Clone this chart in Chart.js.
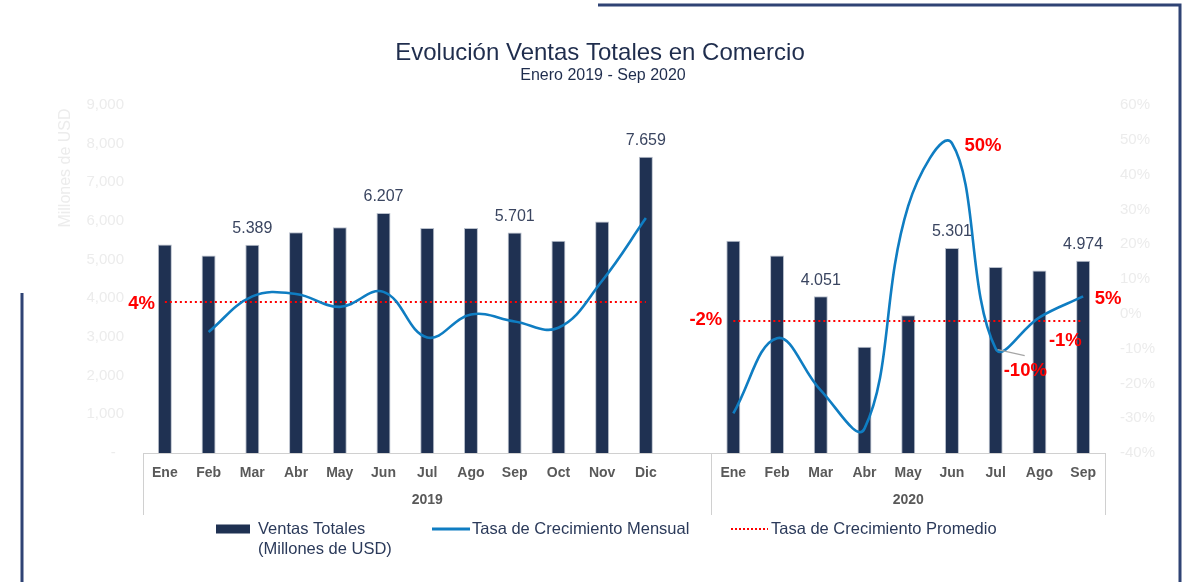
<!DOCTYPE html>
<html><head><meta charset="utf-8">
<script src="https://cdn.jsdelivr.net/npm/chart.js@4.4.1/dist/chart.umd.min.js"></script>
<style>html,body{margin:0;padding:0;background:#fff;}canvas{display:block;}</style>
</head><body>
<canvas id="c" width="1186" height="582"></canvas>
<script>
// ---- Data ----
const months2019 = ['Ene','Feb','Mar','Abr','May','Jun','Jul','Ago','Sep','Oct','Nov','Dic'];
const months2020 = ['Ene','Feb','Mar','Abr','May','Jun','Jul','Ago','Sep'];
const years = ['2019','2020'];
const ventas2019 = [5390, 5110, 5389, 5710, 5840, 6207, 5820, 5820, 5701, 5490, 5990, 7659];
const ventas2020 = [5490, 5110, 4051, 2750, 3565, 5301, 4810, 4720, 4974];
const crecimiento2019 = [null, -5.2, 5.0, 5.7, 2.0, 6.3, -6.8, -0.2, -2.2, -4.0, 9.5, 27.5];
const crecimiento2020 = [-28.6, -7.0, -22.0, -33.0, 31.0, 49.0, -10.0, -1.0, 5.0];
const promedio2019 = 3.4;
const promedio2020 = -2.1;
const promedioTexto = ['4%', '-2%'];
const barrasEtiquetadas2019 = ['Mar','Jun','Sep','Dic'];
const barrasEtiquetadas2020 = ['Mar','Jun','Sep'];
const etiquetasCrecimiento2020 = [['Jun','50%'],['Jul','-10%'],['Ago','-1%'],['Sep','5%']];
const leftTicksMax = 9000, leftTicksStep = 1000;
const rightTicksMin = -40, rightTicksMax = 60, rightTicksStep = 10;

// ---- Build ----
const labels = [...months2019, '', ...months2020];
const off2020 = months2019.length + 1;
const ventas = [...ventas2019, null, ...ventas2020];
const crecimiento = [...crecimiento2019, null, ...crecimiento2020];
const promLine2019 = [...months2019.map(() => promedio2019), null, ...months2020.map(() => null)];
const promLine2020 = [...months2019.map(() => null), null, ...months2020.map(() => promedio2020)];

const FONT = "'Liberation Sans', Arial, sans-serif";
Chart.defaults.font.family = FONT;

const NAVY = '#1f3152';
const BLUE = '#0f7dc2';
const RED = '#ff0000';
const FAINT = '#ececec';

const decor = {
  id: 'decor',
  beforeDraw(chart) {
    const ctx = chart.ctx;
    ctx.save();
    ctx.fillStyle = '#ffffff';
    ctx.fillRect(0, 0, chart.width, chart.height);
    ctx.strokeStyle = '#2f4374';
    ctx.lineWidth = 3;
    ctx.beginPath();
    ctx.moveTo(598, 5); ctx.lineTo(1180, 5); ctx.lineTo(1180, 582);
    ctx.stroke();
    ctx.beginPath();
    ctx.moveTo(22, 293); ctx.lineTo(22, 582);
    ctx.stroke();
    ctx.restore();
  },
  afterDraw(chart) {
    const ctx = chart.ctx;
    const x = chart.scales.x, y1 = chart.scales.y1;
    const ca = chart.chartArea;
    ctx.save();
    // Title
    ctx.textAlign = 'center';
    ctx.textBaseline = 'middle';
    ctx.fillStyle = '#1f2d4d';
    ctx.font = '24px ' + FONT;
    ctx.fillText('Evolución Ventas Totales en Comercio', 600, 53);
    ctx.font = '16px ' + FONT;
    ctx.fillText('Enero 2019 - Sep 2020', 603, 76);
    // Left axis title
    ctx.save();
    ctx.translate(66, 168);
    ctx.rotate(-Math.PI / 2);
    ctx.fillStyle = FAINT;
    ctx.font = '16px ' + FONT;
    ctx.fillText('Millones de USD', 0, 0);
    ctx.restore();
    // x axis: base line, group separators, years
    const cw = x.getPixelForValue(1) - x.getPixelForValue(0);
    const b0 = x.getPixelForValue(0) - cw / 2;
    const b1 = x.getPixelForValue(months2019.length) + cw / 2;
    const b2 = x.getPixelForValue(labels.length - 1) + cw / 2;
    ctx.strokeStyle = '#d0d0d0';
    ctx.lineWidth = 1;
    ctx.beginPath();
    ctx.moveTo(b0, ca.bottom + 0.5); ctx.lineTo(b2, ca.bottom + 0.5);
    [b0, b1, b2].forEach(b => { ctx.moveTo(Math.round(b) + 0.5, ca.bottom); ctx.lineTo(Math.round(b) + 0.5, ca.bottom + 62); });
    ctx.stroke();
    ctx.fillStyle = '#595959';
    ctx.font = 'bold 14px ' + FONT;
    ctx.fillText(years[0], (b0 + b1) / 2, ca.bottom + 47);
    ctx.fillText(years[1], (b1 + b2) / 2, ca.bottom + 47);
    // Bar value labels
    const barMeta = chart.getDatasetMeta(3);
    ctx.fillStyle = '#3a4560';
    ctx.font = '16px ' + FONT;
    const lblIdx = [...barrasEtiquetadas2019.map(m => months2019.indexOf(m)),
                    ...barrasEtiquetadas2020.map(m => off2020 + months2020.indexOf(m))];
    lblIdx.forEach(i => {
      const el = barMeta.data[i];
      ctx.fillText(ventas[i].toLocaleString('de-DE'), el.x, el.y - 16);
    });
    // Growth annotations
    ctx.fillStyle = RED;
    ctx.font = 'bold 18.5px ' + FONT;
    ctx.textAlign = 'right';
    ctx.fillText(promedioTexto[0], x.getPixelForValue(0) - 10, y1.getPixelForValue(promedio2019) + 1.5);
    ctx.fillText(promedioTexto[1], x.getPixelForValue(off2020) - 11, y1.getPixelForValue(promedio2020) - 1);
    ctx.textAlign = 'left';
    const annOffsets = { '50%': [12.5, 3], '-10%': [8, 22], '-1%': [9.5, 23.5], '5%': [11.5, 2.5] };
    etiquetasCrecimiento2020.forEach(([m, t]) => {
      const i = off2020 + months2020.indexOf(m);
      const px = x.getPixelForValue(i), py = y1.getPixelForValue(crecimiento[i]);
      const o = annOffsets[t];
      ctx.fillText(t, px + o[0], py + o[1]);
    });
    // leader line for -10%
    const jx = x.getPixelForValue(off2020 + 6), jy = y1.getPixelForValue(crecimiento[off2020 + 6]);
    ctx.strokeStyle = '#a6a6a6';
    ctx.lineWidth = 1.2;
    ctx.beginPath();
    ctx.moveTo(jx + 2, jy + 1); ctx.lineTo(jx + 29, jy + 7);
    ctx.stroke();
    // Legend
    const ly = 529;
    ctx.fillStyle = NAVY;
    ctx.fillRect(216, ly - 4.5, 34, 9);
    ctx.strokeStyle = BLUE; ctx.lineWidth = 3;
    ctx.beginPath(); ctx.moveTo(432, ly); ctx.lineTo(470, ly); ctx.stroke();
    ctx.strokeStyle = RED; ctx.lineWidth = 2; ctx.setLineDash([2, 2]);
    ctx.beginPath(); ctx.moveTo(731, ly); ctx.lineTo(768, ly); ctx.stroke();
    ctx.setLineDash([]);
    ctx.fillStyle = '#2b3a5a';
    ctx.font = '16.5px ' + FONT;
    ctx.textAlign = 'left';
    ctx.fillText('Ventas Totales', 258, ly);
    ctx.fillText('(Millones de USD)', 258, ly + 20);
    ctx.fillText('Tasa de Crecimiento Mensual', 472, ly);
    ctx.fillText('Tasa de Crecimiento Promedio', 771, ly);
    ctx.restore();
  }
};

new Chart(document.getElementById('c'), {
  data: {
    labels,
    datasets: [
      { type: 'line', label: 'Tasa de Crecimiento Mensual', data: crecimiento, yAxisID: 'y1',
        borderColor: BLUE, borderWidth: 2.6, tension: 0.4, pointRadius: 0, spanGaps: false, order: 0 },
      { type: 'line', label: 'Promedio 2019', data: promLine2019, yAxisID: 'y1',
        borderColor: RED, borderWidth: 2, borderDash: [2, 3], pointRadius: 0, tension: 0, order: 1 },
      { type: 'line', label: 'Promedio 2020', data: promLine2020, yAxisID: 'y1',
        borderColor: RED, borderWidth: 2, borderDash: [2, 3], pointRadius: 0, tension: 0, order: 1 },
      { type: 'bar', label: 'Ventas Totales (Millones de USD)', data: ventas, yAxisID: 'y',
        backgroundColor: NAVY, borderColor: '#b9c0cc', borderWidth: 1,
        barPercentage: 0.32, categoryPercentage: 1, order: 2 }
    ]
  },
  options: {
    responsive: false,
    animation: false,
    devicePixelRatio: 1,
    layout: { padding: { top: 105, left: 0, right: 0, bottom: 0 } },
    plugins: { legend: { display: false }, title: { display: false }, tooltip: { enabled: false } },
    scales: {
      x: {
        offset: true,
        grid: { display: false },
        border: { display: false },
        ticks: { color: '#595959', font: { size: 14, weight: 'bold' }, padding: 4, autoSkip: false, maxRotation: 0 },
        afterFit(s) { s.height = 129; }
      },
      y: {
        position: 'left', min: 0, max: leftTicksMax,
        grid: { display: false, drawTicks: false },
        border: { display: false },
        ticks: { stepSize: leftTicksStep, color: FAINT, font: { size: 15 }, padding: 19,
          callback: v => v === 0 ? '-  ' : v.toLocaleString('en-US') },
        afterFit(s) { s.width = 143; }
      },
      y1: {
        position: 'right', min: rightTicksMin, max: rightTicksMax,
        grid: { display: false, drawTicks: false },
        border: { display: false },
        ticks: { stepSize: rightTicksStep, color: FAINT, font: { size: 15 }, padding: 15,
          callback: v => v + '%' },
        afterFit(s) { s.width = 81; }
      }
    }
  },
  plugins: [decor]
});
</script>
</body></html>
